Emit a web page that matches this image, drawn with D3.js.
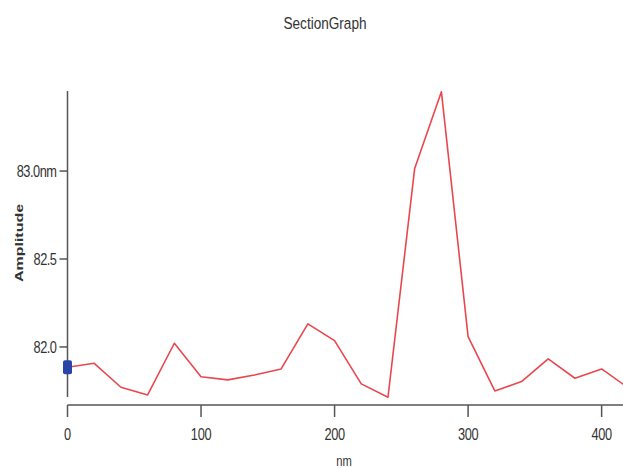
<!DOCTYPE html>
<html>
<head>
<meta charset="utf-8">
<script src="https://cdn.jsdelivr.net/npm/d3@7"></script>
<style>
  body { margin: 0; background: #fff; }
  svg text { font-family: "Liberation Sans", Arial, sans-serif; fill: #333; }
</style>
</head>
<body>
<svg id="chart" width="623" height="468"></svg>
<script>
// Section profile, sampled every 20 nm
const positions = [0, 20, 40, 60, 80, 100, 120, 140, 160, 180, 200, 220, 240, 260, 280, 300, 320, 340, 360, 380, 400, 420];
const amplitudes = [81.885, 81.907, 81.771, 81.727, 82.021, 81.831, 81.813, 81.841, 81.875, 82.131, 82.036, 81.790, 81.714, 83.015, 83.451, 82.059, 81.750, 81.803, 81.932, 81.822, 81.875, 81.767];
const xTicks = [0, 100, 200, 300, 400];
const yTicks = [82.0, 82.5, 83.0];
const yTickLabels = ["82.0", "82.5", "83.0nm"];

const NARROW = 0.8;   // the original picture is squeezed horizontally
const svg = d3.select("#chart");
const
  x = d3.scaleLinear().domain([0, 416]).range([67.5, 623]),
  y = d3.scaleLinear().domain([81.67, 83.455]).range([405, 91])
;

// condensed text placed at (px, py)
function narrowText(sel, px, py) {
  return sel.attr("transform", (d, i) => `translate(${typeof px === "function" ? px(d, i) : px},${typeof py === "function" ? py(d, i) : py}) scale(${NARROW},1)`);
}

// Title
svg.append("text")
  .call(narrowText, 325, 29)
  .attr("text-anchor", "middle")
  .style("font-size", "17px")
  .text("SectionGraph");

// Y axis (stops at the data range, detached from the x axis)
const yAxis = svg.append("g").attr("stroke", "#555").attr("stroke-width", 1.5);
yAxis.append("line")
  .attr("x1", x(0)).attr("x2", x(0))
  .attr("y1", y(83.455)).attr("y2", y(81.716));
yAxis.selectAll(".tick").data(yTicks).enter()
  .append("line")
    .attr("x1", x(0) - 8).attr("x2", x(0))
    .attr("y1", d => y(d)).attr("y2", d => y(d));
svg.selectAll(".ylab").data(yTicks).enter()
  .append("text")
    .call(narrowText, x(0) - 11, d => y(d))
    .attr("dy", "0.36em")
    .attr("text-anchor", "end")
    .style("font-size", "16px")
    .style("letter-spacing", "-0.6px")
    .text((d, i) => yTickLabels[i]);

svg.append("text")
  .attr("transform", "translate(23,243) scale(0.72,1) rotate(-90)")
  .attr("text-anchor", "middle")
  .style("font-size", "16px")
  .style("font-weight", "bold")
  .text("Amplitude");

// X axis
const xAxis = svg.append("g").attr("stroke", "#555").attr("stroke-width", 1.5);
xAxis.append("line")
  .attr("x1", x(0)).attr("x2", 623)
  .attr("y1", y(81.67)).attr("y2", y(81.67));
xAxis.selectAll(".tick").data(xTicks).enter()
  .append("line")
    .attr("x1", d => x(d)).attr("x2", d => x(d))
    .attr("y1", y(81.67)).attr("y2", y(81.67) + 12);
svg.selectAll(".xlab").data(xTicks).enter()
  .append("text")
    .call(narrowText, d => x(d), 434)
    .attr("dy", "0.36em")
    .attr("text-anchor", "middle")
    .style("font-size", "16px")
    .style("letter-spacing", "-0.4px")
    .text(d => d);

svg.append("text")
  .call(narrowText, 344, 466)
  .attr("text-anchor", "middle")
  .style("font-size", "14px")
  .text("nm");

// Profile line
svg.append("clipPath").attr("id", "plot")
  .append("rect").attr("x", x(0)).attr("y", 0).attr("width", 623 - x(0)).attr("height", 468);

svg.append("path")
  .datum(positions.map((p, i) => [p, amplitudes[i]]))
  .attr("clip-path", "url(#plot)")
  .attr("fill", "none")
  .attr("stroke", "#e8474f")
  .attr("stroke-width", 1.6)
  .attr("stroke-linejoin", "round")
  .attr("d", d3.line().x(d => x(d[0])).y(d => y(d[1])));

// Cursor marker at the start of the profile
svg.append("rect")
  .attr("x", x(0) - 4.5).attr("y", y(amplitudes[0]) - 7)
  .attr("width", 9).attr("height", 14)
  .attr("rx", 2)
  .attr("fill", "#2b44a8");
</script>
</body>
</html>
